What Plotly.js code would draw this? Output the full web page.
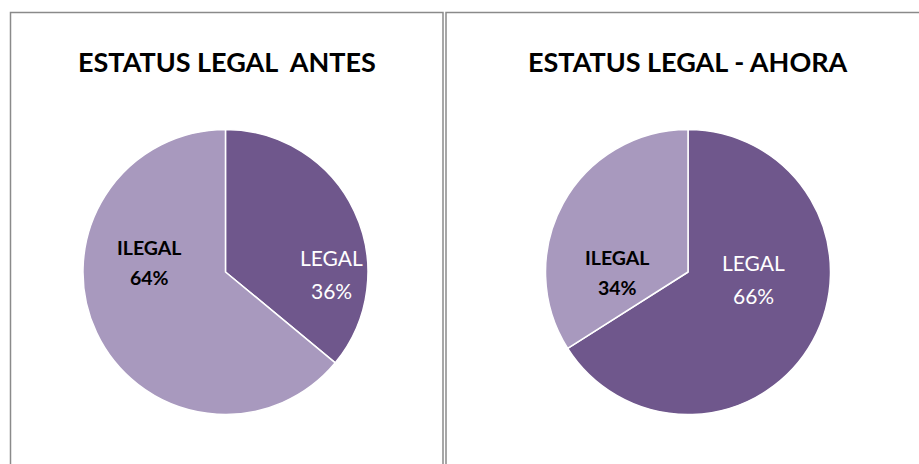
<!DOCTYPE html>
<html>
<head>
<meta charset="utf-8">
<script src="https://cdn.plot.ly/plotly-3.0.1.min.js"></script>
<style>html,body{margin:0;padding:0;background:#fff;}#chart{width:919px;height:464px;}</style>
</head>
<body>
<div id="chart"></div>
<script>
const categories = ["LEGAL", "ILEGAL"];
const valuesAntes = [36, 64];
const valuesAhora = [66, 34];
const titles = ["ESTATUS LEGAL  ANTES", "ESTATUS LEGAL - AHORA"];

const colors = ["#6F578C", "#A899BE"];
const fontFam = "Lato, 'Open Sans', sans-serif";

function pieTrace(vals, xd) {
  return {
    type: "pie",
    labels: categories,
    values: vals,
    sort: false,
    direction: "clockwise",
    rotation: 0,
    textinfo: "none",
    hoverinfo: "label+percent",
    marker: {colors: colors, line: {color: "#ffffff", width: 1.5}},
    domain: {x: xd, y: [0.1067, 0.7209]},
    showlegend: false
  };
}

function pct(vals, i) {
  const t = vals.reduce((a, b) => a + b, 0);
  return Math.round(vals[i] / t * 100) + "%";
}

const data = [
  pieTrace(valuesAntes, [0.0903, 0.4004]),
  pieTrace(valuesAhora, [0.5936, 0.9037])
];

const W = 919, H = 464;
function ann(text, px, py, size, color, bold) {
  return {
    text: bold ? "<b>" + text + "</b>" : text,
    x: px / W, y: 1 - py / H, xref: "paper", yref: "paper",
    showarrow: false, xanchor: "center", yanchor: "middle",
    font: {family: fontFam, size: size, color: color}
  };
}

const annotations = [
  ann(titles[0], 227, 61, 27, "#000", true),
  ann(titles[1], 688, 61, 27, "#000", true),
  ann(categories[0], 331, 257, 21, "#ffffff", false),
  ann(pct(valuesAntes, 0), 331, 290, 21, "#ffffff", false),
  ann(categories[1], 149, 248, 19.5, "#000", true),
  ann(pct(valuesAntes, 1), 149, 277, 19.5, "#000", true),
  ann(categories[1], 617, 257, 19.5, "#000", true),
  ann(pct(valuesAhora, 1), 617, 287, 19.5, "#000", true),
  ann(categories[0], 753, 262, 21, "#ffffff", false),
  ann(pct(valuesAhora, 0), 753, 295, 21, "#ffffff", false)
];

const shapes = [
  {type: "rect", xref: "paper", yref: "paper", x0: 10.5 / W, x1: 443 / W, y0: -0.05, y1: 1 - 12.5 / H,
   line: {color: "#8a8a8a", width: 1.5}},
  {type: "rect", xref: "paper", yref: "paper", x0: 446 / W, x1: 1.05, y0: -0.05, y1: 1 - 12.5 / H,
   line: {color: "#8a8a8a", width: 1.5}}
];

const layout = {
  width: W, height: H,
  margin: {l: 0, r: 0, t: 0, b: 0},
  paper_bgcolor: "#ffffff",
  plot_bgcolor: "#ffffff",
  font: {family: fontFam},
  annotations: annotations,
  shapes: shapes,
  showlegend: false
};

Plotly.newPlot("chart", data, layout, {displayModeBar: false, staticPlot: true});
</script>
</body>
</html>
